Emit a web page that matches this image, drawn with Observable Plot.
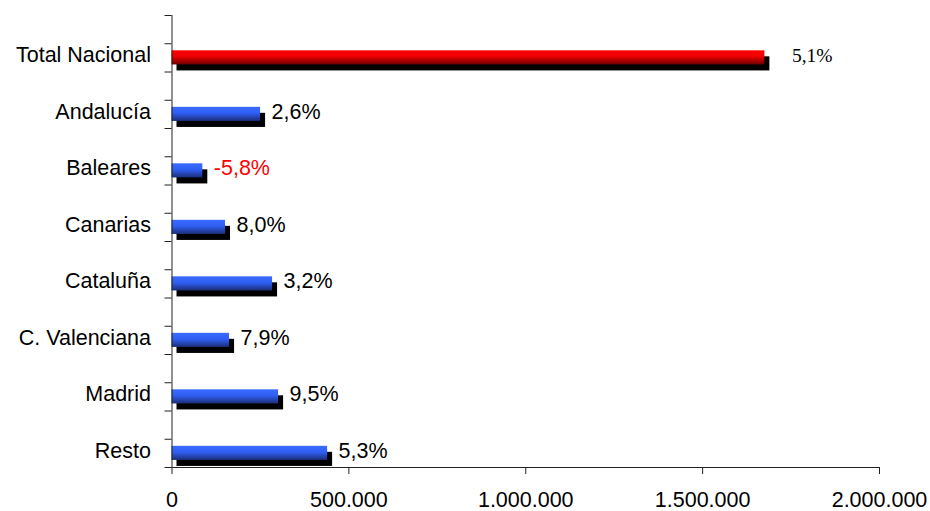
<!DOCTYPE html>
<html><head><meta charset="utf-8">
<script src="https://cdn.jsdelivr.net/npm/d3@7"></script>
<script src="https://cdn.jsdelivr.net/npm/@observablehq/plot@0.6"></script>
<style>body{margin:0;background:#fff}</style>
</head><body><div id="chart"></div>
<script>
const categories = ["Total Nacional","Andalucía","Baleares","Canarias","Cataluña","C. Valenciana","Madrid","Resto"];
const values = [1676000, 250400, 87100, 151300, 284300, 162700, 301300, 439900];
const growthLabels = ["5,1%","2,6%","-5,8%","8,0%","3,2%","7,9%","9,5%","5,3%"];
const xTicks = [0, 500000, 1000000, 1500000, 2000000];

const data = categories.map((name, i) => ({name, value: values[i], label: growthLabels[i], pos: i + 0.75}));
const totalData = data.filter(d => d.name === "Total Nacional");
const regionData = data.filter(d => d.name !== "Total Nacional");
const yTicks = d3.range(0, categories.length + 0.01, 0.5);
const fmt = d => d3.format(",")(d).replace(/,/g, ".");
const barY1 = d => d.pos - 0.125, barY2 = d => d.pos + 0.125;

const plot = Plot.plot({
  width: 930, height: 511,
  marginLeft: 171.5, marginRight: 51, marginTop: 15, marginBottom: 44,
  style: {fontFamily: "'Liberation Sans', Arial, sans-serif", fontSize: "21.5px", color: "#000", background: "#fff", overflow: "visible"},
  x: {domain: [0, 2000000], label: null},
  y: {domain: [0, categories.length], reverse: true, label: null},
  marks: [
    Plot.rectX(data, {x1: 0, x2: "value", y1: barY1, y2: barY2, fill: "#000", dx: 5, dy: 6}),
    Plot.rectX(regionData, {x1: 0, x2: "value", y1: barY1, y2: barY2, fill: "url(#gBlue)"}),
    Plot.rectX(totalData, {x1: 0, x2: "value", y1: barY1, y2: barY2, fill: "url(#gRed)"}),
    Plot.ruleX([0], {stroke: "#222"}),
    Plot.ruleY([categories.length], {stroke: "#222"}),
    Plot.axisY(yTicks, {tickSize: 7, tickFormat: () => "", label: null, stroke: "#222"}),
    Plot.axisX(xTicks, {tickSize: 7, tickPadding: 17, tickFormat: fmt, label: null, stroke: "#222", fill: "#000"}),
    Plot.text(data, {x: 0, y: "pos", text: "name", textAnchor: "end", dx: -21, dy: -2.5, fill: "#000"}),
    Plot.text(regionData.filter(d => !d.label.startsWith("-")), {x: "value", y: "pos", text: "label", textAnchor: "start", dx: 11, dy: -2.5, fill: "#000"}),
    Plot.text(regionData.filter(d => d.label.startsWith("-")), {x: "value", y: "pos", text: "label", textAnchor: "start", dx: 11, dy: -2.5, fill: "#ff0000"}),
    Plot.text(totalData, {x: "value", y: "pos", text: "label", textAnchor: "start", dx: 27, dy: -2, fill: "#000", fontFamily: "'Liberation Serif', 'Times New Roman', serif", fontSize: 19.5})
  ]
});

const svgEl = plot.tagName.toLowerCase() === "svg" ? plot : plot.querySelector("svg");
const defs = d3.select(svgEl).insert("defs", ":first-child");
function grad(id, stops) {
  const g = defs.append("linearGradient").attr("id", id).attr("x1", 0).attr("y1", 0).attr("x2", 0).attr("y2", 1);
  stops.forEach(([o, c]) => g.append("stop").attr("offset", o).attr("stop-color", c));
}
grad("gBlue", [[0, "#3a6cff"], [0.45, "#2f5ff2"], [1, "#1c2d78"]]);
grad("gRed", [[0, "#ff0000"], [0.4, "#f20000"], [1, "#6e0000"]]);
document.getElementById("chart").appendChild(plot);
</script>
</body></html>
